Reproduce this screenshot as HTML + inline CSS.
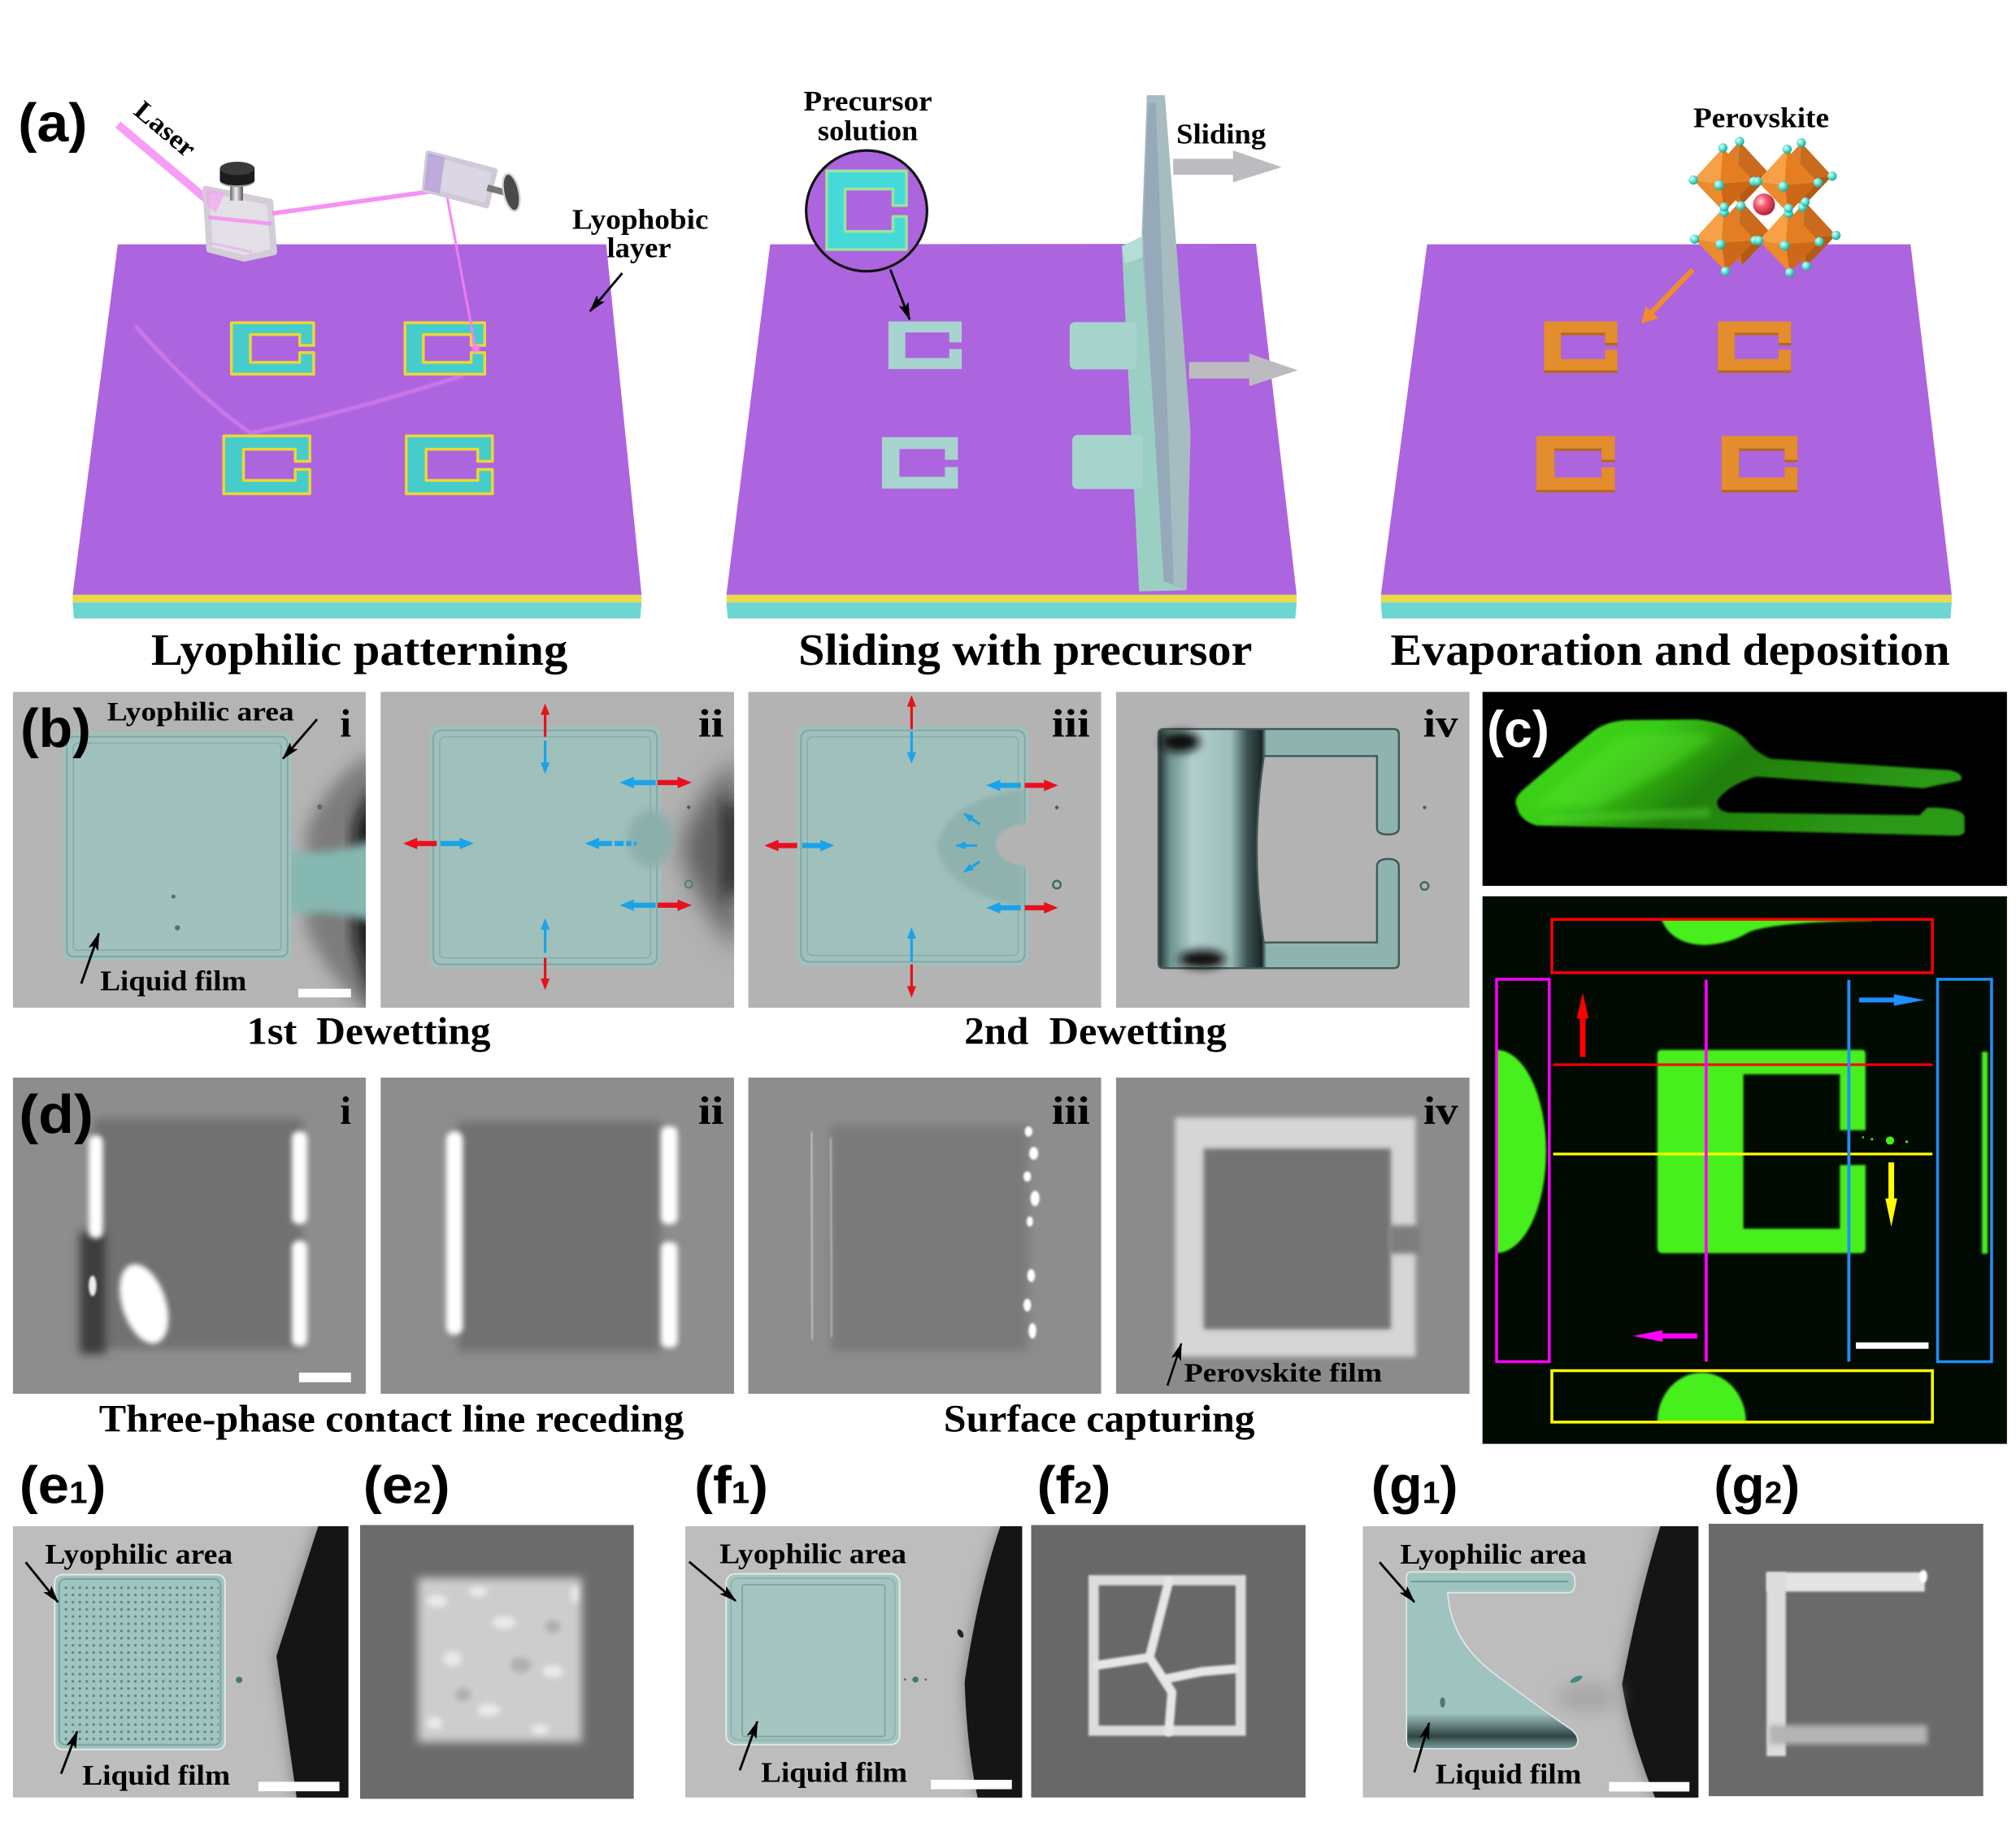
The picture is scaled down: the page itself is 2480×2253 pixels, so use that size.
<!DOCTYPE html>
<html><head><meta charset="utf-8"><title>Figure</title>
<style>
html,body{margin:0;padding:0;background:#fff;width:2480px;height:2253px;overflow:hidden}
svg{display:block}
.s{font-family:"Liberation Serif","DejaVu Serif",serif;font-weight:bold}
.p{font-family:"Liberation Sans","DejaVu Sans",sans-serif;font-weight:bold}
</style></head><body>
<svg xmlns="http://www.w3.org/2000/svg" width="2480" height="2253" viewBox="0 0 1568 1424" preserveAspectRatio="none">
<defs>
<filter id="f1" x="-50%" y="-50%" width="200%" height="200%"><feGaussianBlur stdDeviation="0.8"/></filter>
<filter id="f2" x="-50%" y="-50%" width="200%" height="200%"><feGaussianBlur stdDeviation="2"/></filter>
<filter id="f3" x="-50%" y="-50%" width="200%" height="200%"><feGaussianBlur stdDeviation="3.5"/></filter>
<filter id="f6" x="-50%" y="-50%" width="200%" height="200%"><feGaussianBlur stdDeviation="6"/></filter>
<filter id="f10" x="-50%" y="-50%" width="200%" height="200%"><feGaussianBlur stdDeviation="10"/></filter>
<marker id="ak" viewBox="0 0 14 8" refX="13" refY="4" markerWidth="14" markerHeight="8" markerUnits="userSpaceOnUse" orient="auto"><path d="M0,0 L14,4 L0,8 L3,4 Z" fill="#000"/></marker>
<marker id="abl" viewBox="0 0 8 6" refX="7" refY="3" markerWidth="8" markerHeight="6" markerUnits="userSpaceOnUse" orient="auto"><path d="M0,0 L8,3 L0,6 Z" fill="#1ba3e8"/></marker>
<radialGradient id="ball" cx="0.35" cy="0.35" r="0.7"><stop offset="0" stop-color="#f0fffc"/><stop offset="0.45" stop-color="#62e8d6"/><stop offset="1" stop-color="#1f9f90"/></radialGradient>
<radialGradient id="rball" cx="0.35" cy="0.35" r="0.7"><stop offset="0" stop-color="#ffd6dc"/><stop offset="0.4" stop-color="#f25a70"/><stop offset="1" stop-color="#b01a35"/></radialGradient>
<linearGradient id="metal" x1="0" x2="1"><stop offset="0" stop-color="#666"/><stop offset="0.45" stop-color="#f2f2f2"/><stop offset="1" stop-color="#555"/></linearGradient>
<linearGradient id="gtop" x1="0" y1="0" x2="1" y2="0.3"><stop offset="0" stop-color="#42d81c"/><stop offset="0.3" stop-color="#38cc14"/><stop offset="0.55" stop-color="#217f0d"/><stop offset="1" stop-color="#2c9a14"/></linearGradient>
<linearGradient id="ivg" gradientUnits="userSpaceOnUse" x1="901" y1="0" x2="1088" y2="0"><stop offset="0" stop-color="#223030"/><stop offset="0.05" stop-color="#6e9490"/><stop offset="0.14" stop-color="#b2cecb"/><stop offset="0.3" stop-color="#9dbfbb"/><stop offset="0.37" stop-color="#3b5150"/><stop offset="0.43" stop-color="#1b2626"/><stop offset="0.45" stop-color="#8fb4b0"/><stop offset="1" stop-color="#8fb4b0"/></linearGradient>
<linearGradient id="g1g" x1="0" y1="0" x2="0" y2="1"><stop offset="0" stop-color="#9fc3bf"/><stop offset="0.8" stop-color="#9fc3bf"/><stop offset="0.93" stop-color="#2f4543"/><stop offset="1" stop-color="#7aa29e"/></linearGradient>
<pattern id="dots" x="0" y="0" width="5.4" height="5.6" patternUnits="userSpaceOnUse"><circle cx="2.7" cy="2.8" r="1.05" fill="#5a8783"/></pattern>
<g id="oct">
 <polygon points="0,-25 -23,0 -2,3" fill="#f7a046"/>
 <polygon points="0,-25 24,1 -2,3" fill="#e57e22"/>
 <polygon points="1,25 -23,0 -2,3" fill="#ec8a2e"/>
 <polygon points="1,25 24,1 -2,3" fill="#cc6818"/>
</g>
<g id="ob">
 <polygon points="0,-25 -23,0 -2,3" fill="#dc7e2a"/>
 <polygon points="0,-25 24,1 -2,3" fill="#c96a1c"/>
 <polygon points="1,25 -23,0 -2,3" fill="#d07424"/>
 <polygon points="1,25 24,1 -2,3" fill="#b45a14"/>
</g>
<g id="balls">
 <circle cx="0" cy="-25" r="3.6" fill="url(#ball)"/>
 <circle cx="-23" cy="0" r="3.6" fill="url(#ball)"/>
 <circle cx="1" cy="25" r="3.6" fill="url(#ball)"/>
 <circle cx="24" cy="1" r="3.6" fill="url(#ball)"/>
 <circle cx="-3" cy="4" r="3.9" fill="url(#ball)"/>
</g>
<clipPath id="cbi"><rect x="10" y="538" width="274.5" height="245.7"/></clipPath>
<clipPath id="cbii"><rect x="296" y="538" width="275" height="245.7"/></clipPath>
<clipPath id="cbiii"><rect x="582" y="538" width="274.5" height="245.7"/></clipPath>
<clipPath id="cbiv"><rect x="868" y="538" width="275" height="245.7"/></clipPath>
<clipPath id="cdi"><rect x="10" y="838" width="274.5" height="246"/></clipPath>
<clipPath id="cdii"><rect x="296" y="838" width="275" height="246"/></clipPath>
<clipPath id="cdiii"><rect x="582" y="838" width="274.5" height="246"/></clipPath>
<clipPath id="cdiv"><rect x="868" y="838" width="275" height="246"/></clipPath>
<clipPath id="cct"><rect x="1153" y="538" width="408" height="151"/></clipPath>
<clipPath id="ccb"><rect x="1153" y="697" width="408" height="426"/></clipPath>
<clipPath id="cmag"><rect x="1164" y="761.6" width="41" height="297.4"/></clipPath>
<clipPath id="cred"><rect x="1207" y="715" width="296" height="41.5"/></clipPath>
<clipPath id="cyel"><rect x="1207" y="1066" width="296" height="40"/></clipPath>
<clipPath id="ce1"><rect x="10" y="1187" width="261" height="211"/></clipPath>
<clipPath id="ce2"><rect x="280" y="1186" width="213" height="213"/></clipPath>
<clipPath id="cf1"><rect x="533" y="1187" width="262" height="211"/></clipPath>
<clipPath id="cf2"><rect x="802" y="1186" width="213.5" height="212"/></clipPath>
<clipPath id="cg1"><rect x="1060" y="1187" width="261" height="211"/></clipPath>
<clipPath id="cg2"><rect x="1329" y="1185" width="213.6" height="212"/></clipPath>
</defs>

<rect x="0" y="0" width="1568" height="1424" fill="#fff"/>

<!-- ================= PANEL (a) ================= -->
<text class="p" x="14" y="110" font-size="42" textLength="54" lengthAdjust="spacingAndGlyphs">(a)</text>

<polygon points="91.6,190 471.5,190 499,462.6 56.5,462.6" fill="#ad64df"/>
<polygon points="56.5,462.6 499,462.6 499,468.5 56.5,468.5" fill="#e9d94a"/>
<polygon points="56.5,468.5 499,468.5 498,481 57.5,481" fill="#6cd6d0"/>
<polygon points="599,190 976.9,189.6 1008.5,462.6 565,462.6" fill="#ad64df"/>
<polygon points="565,462.6 1008.5,462.6 1008.5,468.5 565,468.5" fill="#e9d94a"/>
<polygon points="565,468.5 1008.5,468.5 1007.5,481 566,481" fill="#6cd6d0"/>
<polygon points="1110,190 1486,190 1518,462.6 1074,462.6" fill="#ad64df"/>
<polygon points="1074,462.6 1518,462.6 1518,468.5 1074,468.5" fill="#e9d94a"/>
<polygon points="1074,468.5 1518,468.5 1517,481 1075,481" fill="#6cd6d0"/>

<path d="M105,253 Q150,305 195,337 Q280,318 360,292" fill="none" stroke="#e48df2" stroke-width="3" opacity="0.55" filter="url(#f1)"/>

<g fill="#45cccb" stroke="#ead733" stroke-width="3.5" stroke-linejoin="round">
<path d="M0,0 H100 V44 H83 V23 H23 V77 H83 V58 H100 V100 H0 Z" transform="translate(180,251) scale(0.64,0.40)" vector-effect="non-scaling-stroke"/>
<path d="M0,0 H100 V44 H83 V23 H23 V77 H83 V58 H100 V100 H0 Z" transform="translate(315,251) scale(0.62,0.40)" vector-effect="non-scaling-stroke"/>
<path d="M0,0 H100 V44 H83 V23 H23 V77 H83 V58 H100 V100 H0 Z" transform="translate(174,339) scale(0.67,0.45)" vector-effect="non-scaling-stroke"/>
<path d="M0,0 H100 V44 H83 V23 H23 V77 H83 V58 H100 V100 H0 Z" transform="translate(316,339) scale(0.67,0.45)" vector-effect="non-scaling-stroke"/>
</g>

<line x1="91.7" y1="96.9" x2="163" y2="157" stroke="#f37ef2" stroke-width="6.3" stroke-opacity="0.75"/>
<polygon points="160,147 210,157 213,196 190,201 163,194" fill="#e2dfe6" stroke="#d2cdd6" stroke-width="5" stroke-linejoin="round"/>
<polygon points="160,147 175,150 168,165 161,160" fill="#f4a4f2" opacity="0.7"/>
<line x1="162" y1="169" x2="211" y2="174" stroke="#f38cf0" stroke-width="3" opacity="0.8"/>
<line x1="164" y1="189" x2="196" y2="196" stroke="#f4a4f2" stroke-width="2" opacity="0.6"/>
<rect x="179" y="140" width="10" height="16" fill="url(#metal)"/>
<rect x="171" y="131" width="27" height="10" fill="#1c1c1c"/>
<ellipse cx="184.5" cy="141" rx="13.5" ry="4.5" fill="#9a9a9a"/>
<ellipse cx="184.5" cy="140" rx="13.5" ry="4.2" fill="#1c1c1c"/>
<ellipse cx="184.5" cy="131" rx="13.5" ry="5.2" fill="#3a3a3a"/>
<line x1="212" y1="166" x2="345" y2="147.5" stroke="#f37ef2" stroke-width="3.5" stroke-opacity="0.85"/>
<line x1="347" y1="149" x2="370" y2="272" stroke="#f37ef2" stroke-width="2" stroke-opacity="0.9"/>
<circle cx="370" cy="271" r="3" fill="#ff7ff7" filter="url(#f1)"/>
<polygon points="333,119 385,132.7 378.5,160 330,147.5" fill="#dbd6e3" stroke="#cfc9d8" stroke-width="4" stroke-linejoin="round"/>
<polygon points="333,119 346,122.5 342,150.5 330,147.5" fill="#b79fd8" opacity="0.8"/>
<line x1="379" y1="146" x2="394" y2="150" stroke="#777" stroke-width="5"/>
<ellipse cx="397.7" cy="149.6" rx="6" ry="14.7" fill="#4a4a4a" stroke="#d0d0d0" stroke-width="1.5" transform="rotate(-12 397.7 149.6)"/>

<text class="s" x="103" y="88" font-size="21" textLength="55" lengthAdjust="spacingAndGlyphs" transform="rotate(40 103 88)">Laser</text>
<text class="s" x="445" y="178" font-size="22" textLength="106" lengthAdjust="spacingAndGlyphs">Lyophobic</text>
<text class="s" x="472" y="200" font-size="22" textLength="50" lengthAdjust="spacingAndGlyphs">layer</text>
<line x1="484" y1="212.4" x2="459" y2="242" stroke="#000" stroke-width="1.8" marker-end="url(#ak)"/>

<g fill="#a7d4ce">
<path d="M0,0 H100 V44 H83 V23 H23 V77 H83 V58 H100 V100 H0 Z" transform="translate(691,250) scale(0.57,0.37)"/>
<path d="M0,0 H100 V44 H83 V23 H23 V77 H83 V58 H100 V100 H0 Z" transform="translate(686,340) scale(0.59,0.40)"/>
</g>
<polygon points="872.5,191.5 888,184 906,452 923,459 886,460" fill="#9ccfc4"/>
<rect x="832" y="250.5" width="52" height="36.8" rx="4" fill="#a6d4cd"/>
<rect x="834" y="338.3" width="55" height="42" rx="4" fill="#a6d4cd"/>
<polygon points="892,74 906,74 926,336 923,459 906,452 888,181" fill="#a6bcc1"/>
<polygon points="893,80 899,80 913,455 905,452 889,182" fill="#95a9b8"/>
<polygon points="872.5,191.5 888,184 889,200 875,205" fill="#b4ddd4"/>
<polygon points="912.5,123.5 959,123.5 959,117 997,130 959,141.8 959,136 912.5,136" fill="#bcbcc0"/>
<polygon points="924.8,281.5 971.6,281.5 971.6,275 1009.5,288 971.6,300.3 971.6,294.3 924.8,294.3" fill="#bcbcc0"/>
<text class="s" x="915" y="111.7" font-size="22" textLength="69.6" lengthAdjust="spacingAndGlyphs">Sliding</text>
<text class="s" x="625" y="86" font-size="22" textLength="100" lengthAdjust="spacingAndGlyphs">Precursor</text>
<text class="s" x="636" y="109" font-size="22" textLength="78" lengthAdjust="spacingAndGlyphs">solution</text>
<circle cx="674" cy="164" r="47" fill="#ad64df" stroke="#111" stroke-width="2"/>
<path d="M0,0 H100 V44 H83 V23 H23 V77 H83 V58 H100 V100 H0 Z" transform="translate(643,133) scale(0.62,0.61)" fill="#45dad8" stroke="#9be39a" stroke-width="3.5" stroke-linejoin="round" vector-effect="non-scaling-stroke"/>
<line x1="692.5" y1="209.7" x2="707.5" y2="248.4" stroke="#000" stroke-width="1.8" marker-end="url(#ak)"/>

<g fill="#b56a1a">
<path d="M0,0 H100 V44 H83 V23 H23 V77 H83 V58 H100 V100 H0 Z" transform="translate(1201,252) scale(0.57,0.38)"/>
<path d="M0,0 H100 V44 H83 V23 H23 V77 H83 V58 H100 V100 H0 Z" transform="translate(1336,252) scale(0.57,0.38)"/>
<path d="M0,0 H100 V44 H83 V23 H23 V77 H83 V58 H100 V100 H0 Z" transform="translate(1195,341) scale(0.61,0.42)"/>
<path d="M0,0 H100 V44 H83 V23 H23 V77 H83 V58 H100 V100 H0 Z" transform="translate(1339,341) scale(0.59,0.42)"/>
</g>
<g fill="#e38d2c">
<path d="M0,0 H100 V44 H83 V23 H23 V77 H83 V58 H100 V100 H0 Z" transform="translate(1201,250) scale(0.57,0.38)"/>
<path d="M0,0 H100 V44 H83 V23 H23 V77 H83 V58 H100 V100 H0 Z" transform="translate(1336,250) scale(0.57,0.38)"/>
<path d="M0,0 H100 V44 H83 V23 H23 V77 H83 V58 H100 V100 H0 Z" transform="translate(1195,339) scale(0.61,0.42)"/>
<path d="M0,0 H100 V44 H83 V23 H23 V77 H83 V58 H100 V100 H0 Z" transform="translate(1339,339) scale(0.59,0.42)"/>
</g>
<use href="#ob" transform="translate(1353,135)"/>
<use href="#ob" transform="translate(1401,136)"/>
<use href="#ob" transform="translate(1354,181)"/>
<use href="#ob" transform="translate(1404,182)"/>
<use href="#balls" transform="translate(1353,135)"/>
<use href="#balls" transform="translate(1401,136)"/>
<use href="#balls" transform="translate(1404,182)"/>
<use href="#oct" transform="translate(1340,140)"/>
<use href="#oct" transform="translate(1390,141)"/>
<use href="#oct" transform="translate(1341,186)"/>
<use href="#oct" transform="translate(1391,187)"/>
<use href="#balls" transform="translate(1340,140)"/>
<use href="#balls" transform="translate(1390,141)"/>
<use href="#balls" transform="translate(1341,186)"/>
<use href="#balls" transform="translate(1391,187)"/>
<circle cx="1372" cy="159" r="8.5" fill="url(#rball)"/>
<text class="s" x="1317" y="99" font-size="22" textLength="105.6" lengthAdjust="spacingAndGlyphs">Perovskite</text>
<line x1="1316.6" y1="209.7" x2="1283" y2="244.5" stroke="#f08c2e" stroke-width="4"/>
<polygon points="1276.5,251.8 1280,238 1290,247.5" fill="#f08c2e"/>

<text class="s" x="117.5" y="517" font-size="35" textLength="324" lengthAdjust="spacingAndGlyphs">Lyophilic patterning</text>
<text class="s" x="621" y="517" font-size="35" textLength="353" lengthAdjust="spacingAndGlyphs">Sliding with precursor</text>
<text class="s" x="1081.5" y="517" font-size="35" textLength="435" lengthAdjust="spacingAndGlyphs">Evaporation and deposition</text>

<!-- ================= PANEL (b) ================= -->
<g clip-path="url(#cbi)">
 <rect x="10" y="538" width="274.5" height="245.7" fill="#b4b4b4"/>
 <path d="M290,585 Q258,603 238,645 L238,722 Q258,765 290,790 Z" fill="#6a6a6a" opacity="0.75" filter="url(#f6)"/>
 <path d="M292,605 L276,642 L276,730 L292,790 Z" fill="#0e0e0e" filter="url(#f6)"/>
 <path d="M224,661 Q255,667 292,652 L292,718 Q255,705 224,712 Z" fill="#86b8b2" filter="url(#f3)"/>
 <rect x="49" y="570" width="177.6" height="177" rx="6" fill="#a0c1bd"/>
 <rect x="52" y="573" width="171.6" height="171" rx="5" fill="none" stroke="#7da6a1" stroke-width="1.2"/>
 <rect x="57" y="578" width="161.6" height="161" rx="3" fill="none" stroke="#86aca8" stroke-width="1"/>
 <circle cx="134.9" cy="697.3" r="1.6" fill="#4e7470"/>
 <circle cx="138" cy="721.5" r="2" fill="#4e7470"/>
 <circle cx="248.7" cy="627.6" r="2" fill="#666"/>
 <rect x="232" y="769" width="41" height="6.7" fill="#fff"/>
</g>
<g clip-path="url(#cbii)">
 <rect x="296" y="538" width="275" height="245.7" fill="#b2b2b2"/>
 <path d="M575,590 Q540,620 530,660 Q540,700 575,740 Z" fill="#5e5e5e" filter="url(#f10)"/>
 <rect x="563" y="625" width="12" height="70" fill="#222" filter="url(#f6)"/>
 <rect x="334" y="565" width="180" height="188" rx="7" fill="#a0c0bc"/>
 <rect x="337" y="568" width="174" height="182" rx="6" fill="none" stroke="#7fa7a2" stroke-width="1.2"/>
 <rect x="342" y="573" width="164" height="172" rx="4" fill="none" stroke="#88aeaa" stroke-width="1"/>
 <ellipse cx="506" cy="652" rx="18" ry="22" fill="#8aafab" filter="url(#f3)"/>
 <circle cx="535.7" cy="687.7" r="2.8" fill="none" stroke="#567c78" stroke-width="1.3"/>
 <circle cx="535.7" cy="627.8" r="1.4" fill="#555"/>
</g>
<g clip-path="url(#cbiii)">
 <rect x="582" y="538" width="274.5" height="245.7" fill="#b3b3b3"/>
 <rect x="620" y="565" width="180" height="186" rx="7" fill="#a0c0bc"/>
 <rect x="623" y="568" width="174" height="180" rx="6" fill="none" stroke="#7fa7a2" stroke-width="1.2"/>
 <rect x="628" y="573" width="164" height="170" rx="4" fill="none" stroke="#88aeaa" stroke-width="1"/>
 <path d="M796,613 Q745,622 734,645 Q724,657 734,672 Q745,695 796,706 Z" fill="#8fb2ae" filter="url(#f2)"/>
 <path d="M800,640 Q782,642 777,650 Q772,657 777,664 Q782,672 800,674 Z" fill="#b3b3b3" filter="url(#f1)"/>
 <rect x="797" y="640" width="10" height="34" fill="#b3b3b3"/>
 <circle cx="822" cy="688" r="3" fill="none" stroke="#3f6a66" stroke-width="1.6"/>
 <circle cx="822" cy="628" r="1.4" fill="#555"/>
</g>
<g clip-path="url(#cbiv)">
 <rect x="868" y="538" width="275" height="245.7" fill="#b3b3b3"/>
 <path d="M905,567 H1084 Q1088,567 1088,571 V644 Q1088,649 1079.5,649 Q1071,649 1071,644 V588 H983 Q972,660 983,733 H1071 V674 Q1071,668 1079.5,668 Q1088,668 1088,674 V749 Q1088,753 1084,753 H905 Q901,753 901,749 V571 Q901,567 905,567 Z" fill="url(#ivg)" stroke="#3f5856" stroke-width="1.5"/>
 <line x1="986" y1="577" x2="1080" y2="577" stroke="#b8d2cf" stroke-width="4" filter="url(#f1)"/>
 <line x1="986" y1="743" x2="1080" y2="743" stroke="#b8d2cf" stroke-width="4" filter="url(#f1)"/>
 <line x1="1079.5" y1="580" x2="1079.5" y2="640" stroke="#b8d2cf" stroke-width="3" filter="url(#f1)"/>
 <line x1="1079.5" y1="678" x2="1079.5" y2="740" stroke="#b8d2cf" stroke-width="3" filter="url(#f1)"/>
 <ellipse cx="918" cy="577" rx="15" ry="8" fill="#111" filter="url(#f3)"/>
 <ellipse cx="935" cy="746" rx="18" ry="7" fill="#111" filter="url(#f3)"/>
 <circle cx="1108" cy="689" r="3" fill="none" stroke="#3f6a66" stroke-width="1.6"/>
 <circle cx="1108" cy="628" r="1.3" fill="#555"/>
</g>

<g stroke-width="2">
 <line x1="424" y1="573" x2="424" y2="555" stroke="#e8101c"/><polygon points="424,547 420.5,556 427.5,556" fill="#e8101c"/>
 <line x1="424" y1="576" x2="424" y2="594" stroke="#1ba3e8"/><polygon points="424,602 420.5,593 427.5,593" fill="#1ba3e8"/>
 <line x1="424" y1="741" x2="424" y2="722" stroke="#1ba3e8"/><polygon points="424,714 420.5,723 427.5,723" fill="#1ba3e8"/>
 <line x1="424" y1="745" x2="424" y2="762" stroke="#e8101c"/><polygon points="424,770 420.5,761 427.5,761" fill="#e8101c"/>
 <line x1="709" y1="567" x2="709" y2="548.6" stroke="#e8101c"/><polygon points="709,540.6 705.5,549.6 712.5,549.6" fill="#e8101c"/>
 <line x1="709" y1="569" x2="709" y2="586" stroke="#1ba3e8"/><polygon points="709,594 705.5,585 712.5,585" fill="#1ba3e8"/>
 <line x1="709" y1="748" x2="709" y2="729" stroke="#1ba3e8"/><polygon points="709,721 705.5,730 712.5,730" fill="#1ba3e8"/>
 <line x1="709" y1="750" x2="709" y2="768" stroke="#e8101c"/><polygon points="709,776 705.5,767 712.5,767" fill="#e8101c"/>
</g>
<polygon points="339.7,654 324.5,654 324.5,651.5 313.5,656 324.5,660.5 324.5,658 339.7,658" fill="#e8101c"/>
<polygon points="342.6,654 357.6,654 357.6,651.5 368.6,656 357.6,660.5 357.6,658 342.6,658" fill="#1ba3e8"/>
<polygon points="455,656 466,651.5 466,660.5" fill="#1ba3e8"/>
<rect x="466" y="654" width="10" height="4" fill="#1ba3e8"/><rect x="478" y="654" width="7" height="4" fill="#1ba3e8"/><rect x="487" y="654" width="4" height="4" fill="#1ba3e8"/><rect x="493" y="654.5" width="2" height="3" fill="#1ba3e8"/>
<polygon points="510,606.6 493,606.6 493,604.1 482,608.6 493,613.1 493,610.6 510,610.6" fill="#1ba3e8"/>
<polygon points="511.5,606.6 527,606.6 527,604.1 538,608.6 527,613.1 527,610.6 511.5,610.6" fill="#e8101c"/>
<polygon points="510,702 493,702 493,699.5 482,704 493,708.5 493,706 510,706" fill="#1ba3e8"/>
<polygon points="511.5,702 527,702 527,699.5 538,704 527,708.5 527,706 511.5,706" fill="#e8101c"/>
<polygon points="620,655.6 605.5,655.6 605.5,653.1 594.5,657.6 605.5,662.1 605.5,659.6 620,659.6" fill="#e8101c"/>
<polygon points="624,655.6 638,655.6 638,653.1 649,657.6 638,662.1 638,659.6 624,659.6" fill="#1ba3e8"/>
<polygon points="794,608.8 778,608.8 778,606.3 767,610.8 778,615.3 778,612.8 794,612.8" fill="#1ba3e8"/>
<polygon points="797,608.8 812,608.8 812,606.3 823,610.8 812,615.3 812,612.8 797,612.8" fill="#e8101c"/>
<polygon points="794,704 778,704 778,701.5 767,706 778,710.5 778,708 794,708" fill="#1ba3e8"/>
<polygon points="797,704 812,704 812,701.5 823,706 812,710.5 812,708 797,708" fill="#e8101c"/>
<g stroke="#1ba3e8" stroke-width="2">
 <line x1="762" y1="641" x2="750" y2="633" marker-end="url(#abl)"/>
 <line x1="760" y1="657.6" x2="744" y2="657.6" marker-end="url(#abl)"/>
 <line x1="762" y1="670" x2="750" y2="678" marker-end="url(#abl)"/>
</g>

<text class="p" x="15.8" y="581" font-size="42" textLength="55" lengthAdjust="spacingAndGlyphs">(b)</text>
<text class="s" x="83.3" y="560.4" font-size="21" textLength="145.4" lengthAdjust="spacingAndGlyphs">Lyophilic area</text>
<line x1="246.6" y1="559.4" x2="220.2" y2="589.9" stroke="#000" stroke-width="1.8" marker-end="url(#ak)"/>
<text class="s" x="78" y="770" font-size="22" textLength="113.8" lengthAdjust="spacingAndGlyphs">Liquid film</text>
<line x1="63.2" y1="765" x2="76.9" y2="726" stroke="#000" stroke-width="1.8" marker-end="url(#ak)"/>
<text class="s" x="264.5" y="573" font-size="31">i</text>
<text class="s" x="543" y="573" font-size="31" textLength="20" lengthAdjust="spacingAndGlyphs">ii</text>
<text class="s" x="818" y="573" font-size="31" textLength="29.7" lengthAdjust="spacingAndGlyphs">iii</text>
<text class="s" x="1107" y="573" font-size="31" textLength="27" lengthAdjust="spacingAndGlyphs">iv</text>
<text class="s" x="192" y="812" font-size="30" textLength="39" lengthAdjust="spacingAndGlyphs">1st</text>
<text class="s" x="246" y="812" font-size="30" textLength="135.6" lengthAdjust="spacingAndGlyphs">Dewetting</text>
<text class="s" x="750" y="812" font-size="30" textLength="50" lengthAdjust="spacingAndGlyphs">2nd</text>
<text class="s" x="816" y="812" font-size="30" textLength="138" lengthAdjust="spacingAndGlyphs">Dewetting</text>

<!-- ================= PANEL (c) ================= -->
<g clip-path="url(#cct)">
 <rect x="1153" y="538" width="408" height="151" fill="#000"/>
 <path d="M1180,628 Q1176,621 1186,613 Q1215,588 1240,568 Q1250,561 1265,560 L1320,559.5 Q1345,562 1358,575 Q1365,585 1377,590 L1517,599 Q1528,602 1525,607 L1496,613 L1366,604 Q1345,610 1336,622 Q1334,631 1346,632 L1493,634 L1499,628 Q1528,628 1528,636 L1528,647 Q1527,650 1520,650 L1195,642 Q1182,638 1180,628 Z" fill="url(#gtop)" filter="url(#f1)"/>
 <path d="M1192,627 Q1230,595 1258,574 Q1300,566 1335,572 Q1300,600 1240,628 Z" fill="#58e22c" opacity="0.45" filter="url(#f3)"/>
 <path d="M1200,634 L1330,628 L1330,636 L1200,640 Z" fill="#5ad836" opacity="0.4" filter="url(#f2)"/>
</g>
<text class="p" x="1156.5" y="581" font-size="40" textLength="48.5" lengthAdjust="spacingAndGlyphs" fill="#fff">(c)</text>
<g clip-path="url(#ccb)">
 <rect x="1153" y="697" width="408" height="426" fill="#020b02"/>
 <path d="M1292,816.5 H1448 Q1451,816.5 1451,820 V879 H1431 V835.5 H1356 V955.6 H1431 V906 H1451 V971 Q1451,974.6 1447,974.6 H1293 Q1289,974.6 1289,970 V820 Q1289,816.5 1292,816.5 Z" fill="#46f01a" filter="url(#f1)"/>
 <g clip-path="url(#cmag)"><ellipse cx="1164" cy="895.5" rx="38.5" ry="79" fill="#46f01a" filter="url(#f1)"/></g>
 <g clip-path="url(#cred)"><path d="M1291,712 Q1298,734 1325,735 Q1346,734 1360,725 Q1380,717 1456,716 L1456,712 Z" fill="#46f01a" filter="url(#f1)"/></g>
 <g clip-path="url(#cyel)"><ellipse cx="1323.5" cy="1106" rx="34.5" ry="38.5" fill="#46f01a" filter="url(#f1)"/></g>
 <rect x="1541.5" y="818" width="4.5" height="157" fill="#46f01a" filter="url(#f1)"/>
 <circle cx="1470" cy="887" r="3.2" fill="#46f01a"/>
 <circle cx="1456" cy="886" r="1" fill="#46f01a"/><circle cx="1483" cy="888" r="1" fill="#46f01a"/><circle cx="1449" cy="884.5" r="0.8" fill="#46f01a"/>
 <g fill="none" stroke-width="2.2">
  <rect x="1207" y="715" width="296" height="41.5" stroke="#ff0000"/>
  <rect x="1164" y="761.6" width="41" height="297.4" stroke="#ff00ff"/>
  <rect x="1507" y="761.6" width="42" height="297.4" stroke="#1e8fff"/>
  <rect x="1207" y="1066" width="296" height="40" stroke="#ffff00"/>
 </g>
 <line x1="1208" y1="828" x2="1503" y2="828" stroke="#ff0000" stroke-width="2"/>
 <line x1="1208" y1="897.5" x2="1503" y2="897.5" stroke="#ffff00" stroke-width="2"/>
 <line x1="1327" y1="762" x2="1327" y2="1059" stroke="#ff00ff" stroke-width="2.4"/>
 <line x1="1438" y1="762" x2="1438" y2="1059" stroke="#1e8fff" stroke-width="2.4"/>
 <rect x="1228.8" y="790" width="4.4" height="32" fill="#ff0000"/><polygon points="1231,772 1226.4,792 1235.6,792" fill="#ff0000"/>
 <rect x="1446" y="775.8" width="29" height="3.8" fill="#1e8fff"/><polygon points="1497,777.7 1473,773.2 1473,782.2" fill="#1e8fff"/>
 <rect x="1468.8" y="904" width="4.4" height="30" fill="#ffff00"/><polygon points="1471,954 1466.4,932 1475.6,932" fill="#ffff00"/>
 <rect x="1291" y="1037" width="29" height="4" fill="#ff00ff"/><polygon points="1270,1039 1293,1034.5 1293,1043.5" fill="#ff00ff"/>
 <rect x="1443.5" y="1044" width="56.5" height="5" fill="#fff"/>
</g>

<!-- ================= PANEL (d) ================= -->
<g clip-path="url(#cdi)">
 <rect x="10" y="838" width="274.5" height="246" fill="#8d8d8d"/>
 <rect x="73" y="870" width="162" height="179" fill="#717171" filter="url(#f3)"/>
 <rect x="62" y="958" width="20" height="95" fill="#3c3c3c" filter="url(#f3)"/>
 <rect x="69" y="883" width="11" height="80" rx="5" fill="#fff" filter="url(#f2)"/>
 <rect x="227" y="880" width="12" height="72" rx="5" fill="#fff" filter="url(#f2)"/>
 <rect x="227" y="965" width="12" height="82" rx="5" fill="#fff" filter="url(#f2)"/>
 <ellipse cx="112" cy="1014" rx="17" ry="32" fill="#fff" transform="rotate(-18 112 1014)" filter="url(#f2)"/>
 <ellipse cx="72" cy="1000" rx="3" ry="8" fill="#eee" filter="url(#f1)"/>
 <rect x="232.6" y="1067.5" width="40.4" height="7.5" fill="#fff"/>
</g>
<g clip-path="url(#cdii)">
 <rect x="296" y="838" width="275" height="246" fill="#8d8d8d"/>
 <rect x="356" y="872" width="158" height="179" fill="#717171" filter="url(#f3)"/>
 <rect x="347" y="880" width="13" height="158" rx="6" fill="#fff" filter="url(#f2)"/>
 <rect x="514" y="876" width="13" height="76" rx="5" fill="#fff" filter="url(#f2)"/>
 <rect x="514" y="966" width="13" height="82" rx="5" fill="#fff" filter="url(#f2)"/>
</g>
<g clip-path="url(#cdiii)">
 <rect x="582" y="838" width="274.5" height="246" fill="#8d8d8d"/>
 <rect x="646" y="875" width="154" height="176" fill="#7a7a7a" filter="url(#f3)"/>
 <line x1="631" y1="880" x2="632" y2="1042" stroke="#cfcfcf" stroke-width="1.3" filter="url(#f1)"/>
 <line x1="646" y1="885" x2="647" y2="1040" stroke="#c4c4c4" stroke-width="1.2" filter="url(#f1)"/>
 <g fill="#fff" filter="url(#f1)">
  <ellipse cx="800" cy="880" rx="3" ry="4"/><ellipse cx="804" cy="897" rx="3.5" ry="5"/><ellipse cx="799" cy="915" rx="3" ry="4"/><ellipse cx="805" cy="932" rx="3.5" ry="6"/><ellipse cx="801" cy="950" rx="2.5" ry="4"/>
  <ellipse cx="802" cy="992" rx="3" ry="5"/><ellipse cx="799" cy="1015" rx="3" ry="5"/><ellipse cx="803" cy="1035" rx="3" ry="6"/>
 </g>
</g>
<g clip-path="url(#cdiv)">
 <rect x="868" y="838" width="275" height="246" fill="#8b8b8b"/>
 <rect x="936" y="893" width="146" height="141" fill="#737373"/>
 <path d="M914,869 H1101 V1055 H914 Z M936,893 V1034 H1082 V893 Z" fill="#d6d6d6" fill-rule="evenodd" filter="url(#f2)"/>
 <rect x="1080" y="953" width="25" height="22" fill="#7d7d7d" filter="url(#f2)"/>
</g>
<text class="p" x="14.7" y="881" font-size="42" textLength="58" lengthAdjust="spacingAndGlyphs">(d)</text>
<text class="s" x="264.5" y="874" font-size="31">i</text>
<text class="s" x="543" y="874" font-size="31" textLength="20" lengthAdjust="spacingAndGlyphs">ii</text>
<text class="s" x="818" y="874" font-size="31" textLength="29.7" lengthAdjust="spacingAndGlyphs">iii</text>
<text class="s" x="1107" y="874" font-size="31" textLength="27" lengthAdjust="spacingAndGlyphs">iv</text>
<text class="s" x="921" y="1074.5" font-size="21" textLength="154" lengthAdjust="spacingAndGlyphs">Perovskite film</text>
<line x1="908" y1="1077.6" x2="918.8" y2="1045" stroke="#000" stroke-width="1.6" marker-end="url(#ak)"/>
<text class="s" x="77" y="1113.4" font-size="30" textLength="455" lengthAdjust="spacingAndGlyphs">Three-phase contact line receding</text>
<text class="s" x="734" y="1113.4" font-size="30" textLength="242" lengthAdjust="spacingAndGlyphs">Surface capturing</text>

<!-- ================= PANELS e/f/g ================= -->
<text class="p" x="15" y="1169" font-size="41" textLength="67.5" lengthAdjust="spacingAndGlyphs">(e<tspan font-size="24">1</tspan>)</text>
<text class="p" x="282.5" y="1169" font-size="41" textLength="67.5" lengthAdjust="spacingAndGlyphs">(e<tspan font-size="24">2</tspan>)</text>
<text class="p" x="540" y="1169" font-size="41" textLength="57.5" lengthAdjust="spacingAndGlyphs">(f<tspan font-size="24">1</tspan>)</text>
<text class="p" x="806.5" y="1169" font-size="41" textLength="57.5" lengthAdjust="spacingAndGlyphs">(f<tspan font-size="24">2</tspan>)</text>
<text class="p" x="1066.5" y="1169" font-size="41" textLength="67.5" lengthAdjust="spacingAndGlyphs">(g<tspan font-size="24">1</tspan>)</text>
<text class="p" x="1333" y="1169" font-size="41" textLength="67" lengthAdjust="spacingAndGlyphs">(g<tspan font-size="24">2</tspan>)</text>

<g clip-path="url(#ce1)">
 <rect x="10" y="1187" width="261" height="211" fill="#bdbdbd"/>
 <path d="M247.5,1187 L271,1187 L271,1398 L231,1398 L215,1288 Z" fill="#777" filter="url(#f6)"/>
 <path d="M247.5,1187 L275,1187 L275,1400 L231,1400 L215,1288 Z" fill="#151515"/>
 <rect x="42.5" y="1224.6" width="132.5" height="136" rx="6" fill="#a2c4c0" stroke="#e2eae8" stroke-width="1.2"/>
 <rect x="46" y="1228" width="125.5" height="129" rx="5" fill="none" stroke="#7ea7a2" stroke-width="1.5"/>
 <rect x="48" y="1232" width="122" height="123" fill="url(#dots)"/>
 <circle cx="186" cy="1306.5" r="2.5" fill="#3f7a74"/>
 <rect x="201" y="1385.7" width="63" height="7.4" fill="#fff"/>
</g>
<text class="s" x="35" y="1216.2" font-size="22" textLength="146" lengthAdjust="spacingAndGlyphs">Lyophilic area</text>
<line x1="20" y1="1215" x2="45" y2="1245.9" stroke="#000" stroke-width="1.8" marker-end="url(#ak)"/>
<text class="s" x="64" y="1388" font-size="22" textLength="115" lengthAdjust="spacingAndGlyphs">Liquid film</text>
<line x1="47.5" y1="1379.5" x2="60" y2="1346.6" stroke="#000" stroke-width="1.8" marker-end="url(#ak)"/>

<g clip-path="url(#ce2)">
 <rect x="280" y="1186" width="213" height="213" fill="#6b6b6b"/>
 <rect x="325" y="1227" width="127.6" height="128" fill="#cdcdcd" filter="url(#f3)"/>
 <g fill="#f0f0f0" filter="url(#f2)" opacity="0.8">
  <ellipse cx="340" cy="1245" rx="8" ry="5"/><ellipse cx="372" cy="1238" rx="7" ry="4"/><ellipse cx="447" cy="1240" rx="3" ry="7"/><ellipse cx="392" cy="1262" rx="9" ry="5"/><ellipse cx="352" cy="1290" rx="7" ry="6"/><ellipse cx="430" cy="1300" rx="8" ry="5"/><ellipse cx="380" cy="1330" rx="9" ry="5"/><ellipse cx="338" cy="1340" rx="6" ry="5"/><ellipse cx="420" cy="1345" rx="7" ry="4"/>
 </g>
 <g fill="#a8a8a8" filter="url(#f2)" opacity="0.8">
  <ellipse cx="405" cy="1295" rx="8" ry="6"/><ellipse cx="360" cy="1318" rx="6" ry="5"/><ellipse cx="430" cy="1265" rx="6" ry="5"/>
 </g>
</g>

<g clip-path="url(#cf1)">
 <rect x="533" y="1187" width="262" height="211" fill="#bdbdbd"/>
 <path d="M778.7,1187 Q760,1240 750.3,1308 Q752,1360 760.8,1398 L800,1398 L800,1187 Z" fill="#777" filter="url(#f6)"/>
 <path d="M778.7,1185 Q760,1240 750.3,1308 Q752,1360 760.8,1400 L800,1400 L800,1185 Z" fill="#151515"/>
 <ellipse cx="747" cy="1270.4" rx="2" ry="3.5" fill="#222" transform="rotate(-30 747 1270.4)"/>
 <rect x="564.8" y="1224" width="134.9" height="132.8" rx="7" fill="#a5c5c1" stroke="#e3ebe9" stroke-width="1.2"/>
 <rect x="568.5" y="1227.5" width="127.5" height="125.8" rx="6" fill="none" stroke="#8fb3af" stroke-width="1.2"/>
 <rect x="577.3" y="1232.5" width="111" height="118" rx="2" fill="none" stroke="#7ea7a2" stroke-width="1.2"/>
 <circle cx="712" cy="1306.2" r="2.4" fill="#3f7a74"/>
 <circle cx="704" cy="1306.2" r="0.8" fill="#555"/><circle cx="720" cy="1306.2" r="0.8" fill="#555"/>
 <rect x="724" y="1384.2" width="63" height="7.3" fill="#fff"/>
</g>
<text class="s" x="559.6" y="1215.6" font-size="22" textLength="145.4" lengthAdjust="spacingAndGlyphs">Lyophilic area</text>
<line x1="536" y1="1214.6" x2="572.2" y2="1245" stroke="#000" stroke-width="1.8" marker-end="url(#ak)"/>
<text class="s" x="592" y="1385.8" font-size="22" textLength="113.6" lengthAdjust="spacingAndGlyphs">Liquid film</text>
<line x1="575.4" y1="1376.8" x2="589" y2="1338.9" stroke="#000" stroke-width="1.8" marker-end="url(#ak)"/>

<g clip-path="url(#cf2)">
 <rect x="802" y="1186" width="213.5" height="212" fill="#686868"/>
 <path d="M846.6,1225 H969 V1350 H846.6 Z M854.6,1233 V1342 H961 V1233 Z" fill="#dcdcdc" fill-rule="evenodd" filter="url(#f1)"/>
 <g fill="none" stroke="#e6e6e6" stroke-width="7" stroke-linejoin="round" stroke-linecap="round" filter="url(#f1)">
  <polyline points="909,1230 894,1289 854,1295"/>
  <polyline points="894,1289 911.5,1316 909,1347"/>
  <polyline points="905,1306 935,1300 960,1298"/>
 </g>
</g>

<g clip-path="url(#cg1)">
 <rect x="1060" y="1187" width="261" height="211" fill="#bdbdbd"/>
 <path d="M1292,1187 L1321,1187 L1321,1398 L1288,1398 Q1268,1350 1261.6,1310 Q1275,1240 1292,1187 Z" fill="#777" filter="url(#f6)"/>
 <path d="M1292,1185 L1325,1185 L1325,1400 L1288,1400 Q1268,1350 1261.6,1310 Q1275,1240 1292,1185 Z" fill="#151515"/>
 <ellipse cx="1235" cy="1320" rx="25" ry="12" fill="#a8a8a8" filter="url(#f6)"/>
 <path d="M1094,1226 Q1094,1222.6 1098,1222.6 L1220,1222.6 Q1225,1222.6 1225,1230.6 Q1225,1238.6 1220,1238.6 L1126,1238.6 Q1128,1275 1160,1300 Q1200,1330 1222,1345 Q1228,1350 1227,1355 Q1226,1360 1220,1360 L1100,1360 Q1094,1360 1094,1354 Z" fill="url(#g1g)" stroke="#e3ebe9" stroke-width="1"/>
 <path d="M1097,1230 H1220" stroke="#6f9793" stroke-width="1.2" fill="none"/>
 <ellipse cx="1122" cy="1324" rx="2" ry="4" fill="#4c7a76"/>
 <ellipse cx="1226" cy="1306" rx="5" ry="2" fill="#3f8a84" transform="rotate(-25 1226 1306)"/>
 <rect x="1251.5" y="1385.9" width="62.5" height="7.4" fill="#fff"/>
</g>
<text class="s" x="1089" y="1216.2" font-size="22" textLength="145" lengthAdjust="spacingAndGlyphs">Lyophilic area</text>
<line x1="1073" y1="1215" x2="1100" y2="1245.9" stroke="#000" stroke-width="1.8" marker-end="url(#ak)"/>
<text class="s" x="1116.5" y="1387" font-size="22" textLength="113.5" lengthAdjust="spacingAndGlyphs">Liquid film</text>
<line x1="1100" y1="1378.5" x2="1111.5" y2="1340" stroke="#000" stroke-width="1.8" marker-end="url(#ak)"/>

<g clip-path="url(#cg2)">
 <rect x="1329" y="1185" width="213.6" height="212" fill="#6a6a6a"/>
 <rect x="1374" y="1222.8" width="123" height="15" fill="#e4e4e4" filter="url(#f1)"/>
 <rect x="1374" y="1222.8" width="15" height="143" fill="#dcdcdc" filter="url(#f1)"/>
 <rect x="1376" y="1341.6" width="123" height="15" fill="#b4b4b4" filter="url(#f2)"/>
 <ellipse cx="1496" cy="1226" rx="3" ry="5" fill="#fff" filter="url(#f1)"/>
</g>

</svg>
</body></html>
